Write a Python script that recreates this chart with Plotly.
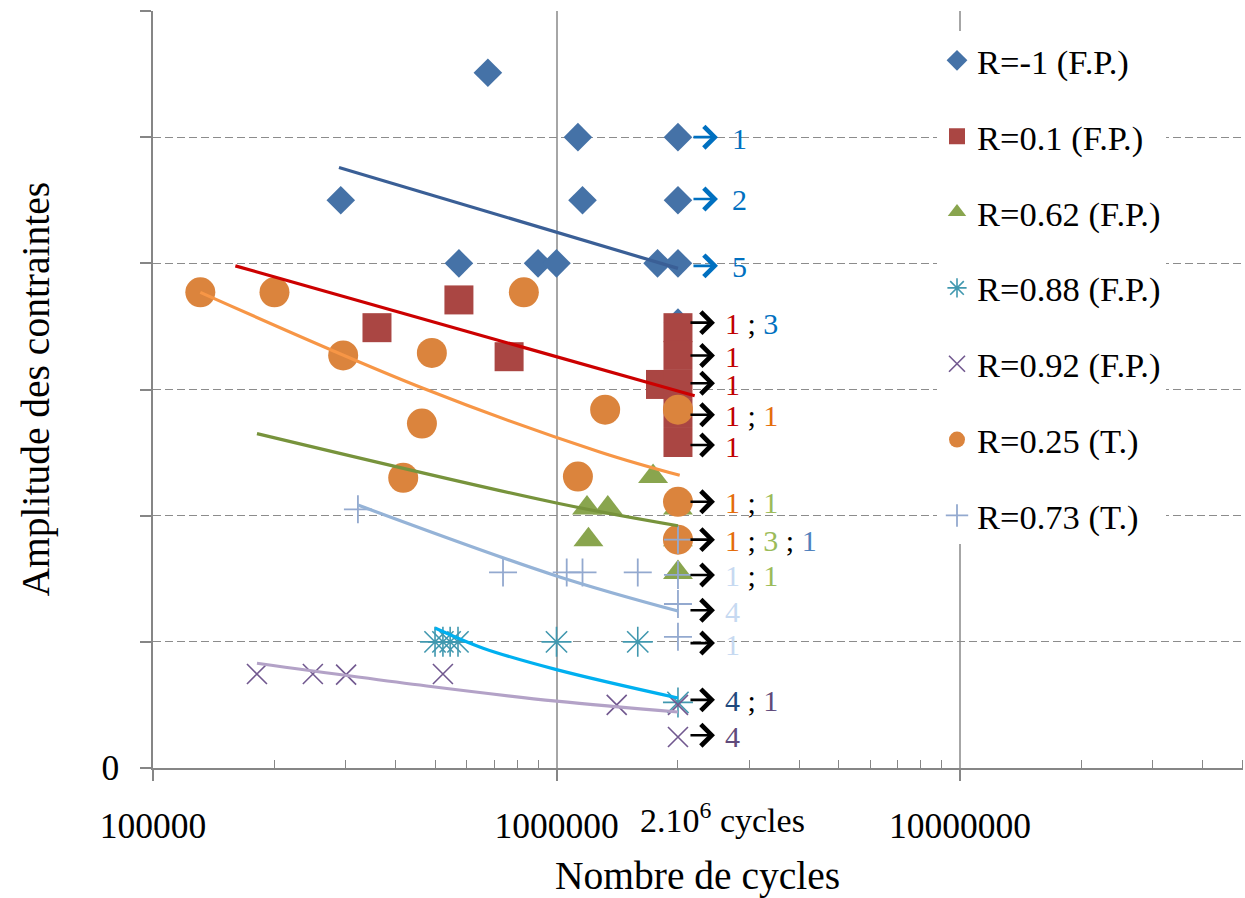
import math
import plotly.graph_objects as go

FONT = "Liberation Serif"

# ---------------- data ----------------
series_names = ["R=-1 (F.P.)", "R=0.1 (F.P.)", "R=0.62 (F.P.)", "R=0.88 (F.P.)",
                "R=0.92 (F.P.)", "R=0.25 (T.)", "R=0.73 (T.)"]

rm1_x = [6.76e5, 1.13e6, 2.0e6, 2.92e5, 1.16e6, 2.0e6, 5.73e5, 9.0e5, 1.0e6, 1.78e6, 2.0e6, 2.0e6]
rm1_y = [5.51, 5.0, 5.0, 4.50, 4.50, 4.50, 4.0, 4.0, 4.0, 4.0, 4.0, 3.53]

r01_x = [3.59e5, 5.73e5, 7.63e5, 1.81e6, 2.0e6, 2.0e6, 2.0e6, 2.0e6, 2.0e6]
r01_y = [3.49, 3.71, 3.26, 3.04, 3.49, 3.27, 3.04, 2.81, 2.58]

r062_x = [1.735e6, 1.19e6, 1.34e6, 2.0e6, 1.2e6, 2.0e6, 2.0e6]
r062_y = [2.31, 2.06, 2.06, 2.06, 1.81, 1.81, 1.55]

r088_x = [5.0e5, 5.23e5, 5.45e5, 5.7e5, 1.0e6, 1.59e6, 2.0e6]
r088_y = [1.0, 1.0, 1.0, 1.0, 1.0, 1.0, 0.52]

r092_x = [1.81e5, 2.49e5, 3.01e5, 5.23e5, 1.41e6, 2.0e6, 2.0e6]
r092_y = [0.745, 0.745, 0.74, 0.745, 0.50, 0.50, 0.246]

r025_x = [1.31e5, 2.0e5, 2.96e5, 4.91e5, 8.3e5, 4.64e5, 4.17e5, 1.32e6, 1.13e6, 2.0e6, 2.0e6, 2.0e6]
r025_y = [3.77, 3.77, 3.27, 3.29, 3.77, 2.73, 2.30, 2.84, 2.31, 2.84, 2.11, 1.81]

r073_x = [3.22e5, 7.37e5, 1.06e6, 1.16e6, 1.59e6, 2.0e6, 2.0e6, 2.0e6, 2.0e6]
r073_y = [2.05, 1.55, 1.55, 1.55, 1.55, 1.81, 1.53, 1.30, 1.04]

# trend lines
tr_rm1_x = [2.89e5, 2.0e6]
tr_rm1_y = [4.76, 3.96]
tr_r01_x = [1.6e5, 2.2e6]
tr_r01_y = [3.98, 2.95]
tr_r062_x = [1.81e5, 1.0e6, 2.0e6]
tr_r062_y = [2.65, 2.10, 1.92]
tr_r088_x = [5.0e5, 6.58e5, 1.0e6, 2.0e6]
tr_r088_y = [1.11, 0.95, 0.78, 0.555]
tr_r092_x = [1.81e5, 4.77e5, 1.0e6, 2.0e6]
tr_r092_y = [0.83, 0.65, 0.53, 0.444]
tr_r025_x = [1.31e5, 4.67e5, 1.28e6, 2.02e6]
tr_r025_y = [3.77, 3.01, 2.505, 2.32]
tr_r073_x = [3.22e5, 1.0e6, 2.0e6]
tr_r073_y = [2.084, 1.522, 1.244]

# run-out annotations at 2.10^6 cycles
runout_cycles = 2.0e6
runout_y = [5.0, 4.51, 3.98, 3.53, 3.27, 3.05, 2.80, 2.56, 2.11, 1.81, 1.53, 1.25, 0.99, 0.54, 0.26]
runout_counts = [["1"], ["2"], ["5"], ["1", "3"], ["1"], ["1"], ["1", "1"], ["1"],
                 ["1", "1"], ["1", "3", "1"], ["1", "1"], ["4"], ["1"], ["4", "1"], ["4"]]
B, R, O, G, MB, LB, NV, PU = ("#0070C0", "#C00000", "#E46C0A", "#9BBB59",
                              "#4F81BD", "#C6D9F1", "#1F497D", "#604A7B")
runout_colors = [[B], [B], [B], [R, B], [R], [R], [R, O], [R],
                 [O, G], [O, G, MB], [LB, G], [LB], [LB], [NV, PU], [PU]]
arrow_colors = ["#0070C0"] * 3 + ["#000000"] * 12

x_tickvals = [1e5, 1e6, 1e7]
x_ticktext = ["100000", "1000000", "10000000"]
x_minor = [m * 10 ** e for e in (5, 6) for m in range(2, 10)] + [2e7, 3e7, 4e7, 5e7]
y_tickvals = [0, 1, 2, 3, 4, 5, 6]
y_ticktext = ["0", "", "", "", "", "", ""]

# ---------------- figure ----------------
fig = go.Figure()

marker_specs = [
    (rm1_x, rm1_y, dict(symbol="diamond", size=22, color="#4572A7")),
    (r01_x, r01_y, dict(symbol="square", size=29, color="#AA4643")),
    (r062_x, r062_y, dict(symbol="triangle-up", size=26, color="#89A54E")),
    (r088_x, r088_y, dict(symbol="asterisk-open", size=25, color="#4198AF",
                          line=dict(color="#4198AF", width=1.6))),
    (r092_x, r092_y, dict(symbol="x-thin-open", size=20, color="#71588F",
                          line=dict(color="#71588F", width=1.6))),
    (r025_x, r025_y, dict(symbol="circle", size=30, color="#DB843D")),
    (r073_x, r073_y, dict(symbol="cross-thin-open", size=20, color="#93A9CF",
                          line=dict(color="#93A9CF", width=1.8))),
]
for name, (xs, ys, mk) in zip(series_names, marker_specs):
    fig.add_trace(go.Scatter(x=xs, y=ys, mode="markers", name=name, legendgroup=name,
                             marker=mk, hoverinfo="skip"))

trend_specs = [
    (tr_rm1_x, tr_rm1_y, "#3A5F96"),
    (tr_r01_x, tr_r01_y, "#CC0000"),
    (tr_r062_x, tr_r062_y, "#77933C"),
    (tr_r088_x, tr_r088_y, "#00B0F0"),
    (tr_r092_x, tr_r092_y, "#B3A2C7"),
    (tr_r025_x, tr_r025_y, "#F79646"),
    (tr_r073_x, tr_r073_y, "#95B3D7"),
]
for name, (xs, ys, c) in zip(series_names, trend_specs):
    fig.add_trace(go.Scatter(x=xs, y=ys, mode="lines",
                             line=dict(color=c, width=3.2, shape="spline", smoothing=1.0),
                             showlegend=False, legendgroup=name, hoverinfo="skip"))

annotations = []
lx = math.log10(runout_cycles)
for yv, counts, cols, ac in zip(runout_y, runout_counts, runout_colors, arrow_colors):
    blue = ac != "#000000"
    tip = 40 if blue else 37
    annotations.append(dict(x=lx, y=yv, xref="x", yref="y", text="", showarrow=True,
                            ax=-26, ay=0, xshift=tip, arrowhead=4, arrowsize=1.6,
                            arrowwidth=2.6, arrowcolor=ac, standoff=0))
    txt = " ; ".join('<span style="color:%s">%s</span>' % (c, t) for t, c in zip(counts, cols))
    annotations.append(dict(x=lx, y=yv, xref="x", yref="y", text=txt, showarrow=False,
                            xanchor="left", yanchor="middle", xshift=52 if blue else 45, yshift=-1,
                            font=dict(family=FONT, size=30, color="#000000")))

annotations.append(dict(x=(722 - 153) / 1090, y=-(818 - 768) / 757, xref="paper", yref="paper",
                        text="2.10<sup>6</sup> cycles", showarrow=False, xanchor="center",
                        yanchor="middle", font=dict(family=FONT, size=34, color="#000000")))
annotations.append(dict(x=(697 - 153) / 1090, y=-(876 - 768) / 757, xref="paper", yref="paper",
                        text="Nombre de cycles", showarrow=False, xanchor="center",
                        yanchor="middle", font=dict(family=FONT, size=39.5, color="#000000")))
annotations.append(dict(x=(35 - 153) / 1090, y=0.5, xref="paper", yref="paper",
                        text="Amplitude des contraintes", showarrow=False, textangle=-90,
                        xanchor="center", yanchor="middle",
                        font=dict(family=FONT, size=39.5, color="#000000")))

fig.update_layout(
    width=1245, height=898, autosize=False,
    margin=dict(l=153, r=2, t=11, b=130),
    paper_bgcolor="white", plot_bgcolor="white",
    font=dict(family=FONT, size=34, color="#000000"),
    showlegend=True,
    legend=dict(x=(937 - 153) / 1090, y=0.973, xanchor="left", yanchor="top",
                bgcolor="white", borderwidth=0, traceorder="grouped", tracegroupgap=28,
                entrywidth=228, entrywidthmode="pixels",
                font=dict(family=FONT, size=34.5, color="#000000")),
    annotations=annotations,
)

fig.update_xaxes(
    type="log", range=[5, 5 + 1090 / 403.5],
    tickmode="array", tickvals=x_tickvals, ticktext=x_ticktext,
    ticks="outside", ticklen=11, tickwidth=1.5, tickcolor="#868686",
    ticklabelstandoff=15,
    showline=True, linecolor="#868686", linewidth=1.5,
    showgrid=True, gridcolor="#A6A6A6", gridwidth=1.5, zeroline=False,
    tickfont=dict(family=FONT, size=35.5, color="#000000"),
    minor=dict(tickmode="array", tickvals=x_minor, ticks="inside", ticklen=8,
               tickwidth=1.3, tickcolor="#868686", showgrid=False),
)
fig.update_yaxes(
    range=[0, 6], tickmode="array", tickvals=y_tickvals, ticktext=y_ticktext,
    ticks="outside", ticklen=11, tickwidth=1.5, tickcolor="#868686",
    ticklabelstandoff=14,
    showline=True, linecolor="#868686", linewidth=1.5,
    showgrid=True, gridcolor="#8C8C8C", gridwidth=1.3, griddash="8px,4px", zeroline=False,
    tickfont=dict(family=FONT, size=35.5, color="#000000"),
)

fig.write_html("out.html")
